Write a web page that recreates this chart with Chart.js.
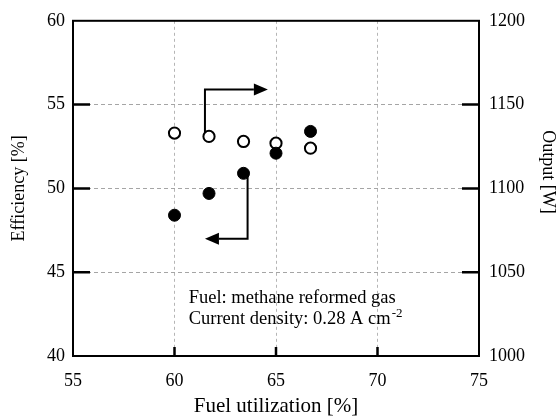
<!DOCTYPE html>
<html lang="en">
<head>
<meta charset="UTF-8" />
<title>Efficiency and output vs fuel utilization</title>
<script src="https://cdn.jsdelivr.net/npm/chart.js"></script>
<style>
  html, body { margin: 0; padding: 0; background: #fff; }
  .chart-wrap { position: relative; width: 557px; height: 419px; }
</style>
</head>
<body>
<div class="chart-wrap"><canvas id="fuelChart"></canvas></div>
<script>
const fuelUtilization = [60.0, 61.7, 63.4, 65.0, 66.7];
const efficiency = [48.4, 49.7, 50.9, 52.1, 53.4];
const output = [1133, 1131, 1128, 1127, 1124];
const xTicks = [55, 60, 65, 70, 75];
const effTicks = [40, 45, 50, 55, 60];
const outTicks = [1000, 1050, 1100, 1150, 1200];
// arrow paths in data units, last point is the tip
const outputArrow = [[61.5, 1131], [61.5, 1159], [64.6, 1159]];
const effArrow = [[63.6, 50.9], [63.6, 47.0], [61.5, 47.0]];
const noteLines = ['Fuel: methane reformed gas', 'Current density: 0.28 A cm'];
const noteAt = [60.7, 43.45, 42.2];

const serif = "'Liberation Serif', 'Times New Roman', serif";

function pts(xs, ys) {
  return xs.map((x, i) => ({ x: x, y: ys[i] }));
}

function fixedTicks(list) {
  return function (scale) {
    scale.ticks = list.map(v => ({ value: v }));
  };
}

function drawArrow(ctx, xs, ys, path) {
  const p = path.map(q => [xs.getPixelForValue(q[0]), ys.getPixelForValue(q[1])]);
  const n = p.length;
  const tip = p[n - 1], prev = p[n - 2];
  const ang = Math.atan2(tip[1] - prev[1], tip[0] - prev[0]);
  const len = 14, half = 6;
  ctx.save();
  ctx.strokeStyle = '#000';
  ctx.fillStyle = '#000';
  ctx.lineWidth = 2;
  ctx.beginPath();
  ctx.moveTo(p[0][0], p[0][1]);
  for (let i = 1; i < n - 1; i++) ctx.lineTo(p[i][0], p[i][1]);
  ctx.lineTo(tip[0] - len * Math.cos(ang), tip[1] - len * Math.sin(ang));
  ctx.stroke();
  ctx.beginPath();
  ctx.moveTo(tip[0], tip[1]);
  ctx.lineTo(tip[0] - len * Math.cos(ang) - half * Math.sin(ang), tip[1] - len * Math.sin(ang) + half * Math.cos(ang));
  ctx.lineTo(tip[0] - len * Math.cos(ang) + half * Math.sin(ang), tip[1] - len * Math.sin(ang) - half * Math.cos(ang));
  ctx.closePath();
  ctx.fill();
  ctx.restore();
}

const frame = {
  id: 'frame',
  beforeDatasetsDraw(chart) {
    const { ctx, scales } = chart;
    drawArrow(ctx, scales.x, scales.y2, outputArrow);
    drawArrow(ctx, scales.x, scales.y, effArrow);
  },
  afterDraw(chart) {
    const { ctx, chartArea: a, scales } = chart;
    ctx.save();
    ctx.strokeStyle = '#000';
    // inward tick marks
    ctx.lineWidth = 2.5;
    ctx.beginPath();
    effTicks.slice(1, -1).forEach(v => {
      const y = scales.y.getPixelForValue(v);
      ctx.moveTo(a.left, y); ctx.lineTo(a.left + 17, y);
    });
    outTicks.slice(1, -1).forEach(v => {
      const y = scales.y2.getPixelForValue(v);
      ctx.moveTo(a.right, y); ctx.lineTo(a.right - 17, y);
    });
    xTicks.slice(1, -1).forEach(v => {
      const x = scales.x.getPixelForValue(v);
      ctx.moveTo(x, a.bottom); ctx.lineTo(x, a.bottom - 9);
    });
    ctx.stroke();
    // box
    ctx.lineWidth = 2;
    ctx.strokeRect(a.left, a.top, a.right - a.left, a.bottom - a.top);

    // note text
    ctx.fillStyle = '#000';
    ctx.font = '18.5px ' + serif;
    ctx.textAlign = 'left';
    ctx.textBaseline = 'middle';
    const nx = scales.x.getPixelForValue(noteAt[0]);
    const y1 = scales.y.getPixelForValue(noteAt[1]);
    const y2 = scales.y.getPixelForValue(noteAt[2]);
    ctx.fillText(noteLines[0], nx, y1);
    ctx.fillText(noteLines[1], nx, y2);
    const w = ctx.measureText(noteLines[1]).width;
    ctx.font = '13px ' + serif;
    ctx.fillText('-2', nx + w + 1, y2 - 6);

    // right axis title
    ctx.font = '18px ' + serif;
    ctx.textAlign = 'center';
    ctx.translate(548, 172);
    ctx.rotate(Math.PI / 2);
    ctx.fillText('Output [W]', 0, 0);
    ctx.restore();
  }
};

const tickFont = { family: serif, size: 18 };
const plain = v => String(v);

new Chart(document.getElementById('fuelChart'), {
  type: 'scatter',
  data: {
    datasets: [
      {
        label: 'Efficiency',
        data: pts(fuelUtilization, efficiency),
        yAxisID: 'y',
        pointRadius: 6,
        pointBorderWidth: 1,
        pointBackgroundColor: '#000',
        pointBorderColor: '#000'
      },
      {
        label: 'Output',
        data: pts(fuelUtilization, output),
        yAxisID: 'y2',
        pointRadius: 5.6,
        pointBorderWidth: 2,
        pointBackgroundColor: '#fff',
        pointBorderColor: '#000'
      }
    ]
  },
  options: {
    responsive: true,
    maintainAspectRatio: false,
    animation: false,
    layout: { padding: { top: 20 } },
    plugins: {
      legend: { display: false },
      tooltip: { enabled: false }
    },
    scales: {
      x: {
        type: 'linear',
        min: xTicks[0],
        max: xTicks[xTicks.length - 1],
        afterBuildTicks: fixedTicks(xTicks),
        afterFit(s) { s.height = 63; },
        grid: { color: '#b5b5b5', drawTicks: false },
        border: { display: false, dash: [3, 3] },
        ticks: { color: '#000', padding: 14, font: tickFont, callback: plain },
        title: {
          display: true,
          text: 'Fuel utilization [%]',
          color: '#000',
          padding: { top: 0, bottom: 0 },
          font: { family: serif, size: 21 }
        }
      },
      y: {
        type: 'linear',
        position: 'left',
        min: effTicks[0],
        max: effTicks[effTicks.length - 1],
        afterBuildTicks: fixedTicks(effTicks),
        afterFit(s) { s.width = 73; },
        grid: { color: '#a5a5a5', drawTicks: false },
        border: { display: false, dash: [4, 3] },
        ticks: { color: '#000', padding: 8, font: tickFont, callback: plain },
        title: {
          display: true,
          text: 'Efficiency [%]',
          color: '#000',
          padding: { top: 8, bottom: 0 },
          font: { family: serif, size: 18 }
        }
      },
      y2: {
        type: 'linear',
        position: 'right',
        min: outTicks[0],
        max: outTicks[outTicks.length - 1],
        afterBuildTicks: fixedTicks(outTicks),
        afterFit(s) { s.width = 78; },
        grid: { display: false, drawTicks: false },
        border: { display: false },
        ticks: { color: '#000', padding: 10, font: tickFont, callback: plain }
      }
    }
  },
  plugins: [frame]
});
</script>
</body>
</html>
